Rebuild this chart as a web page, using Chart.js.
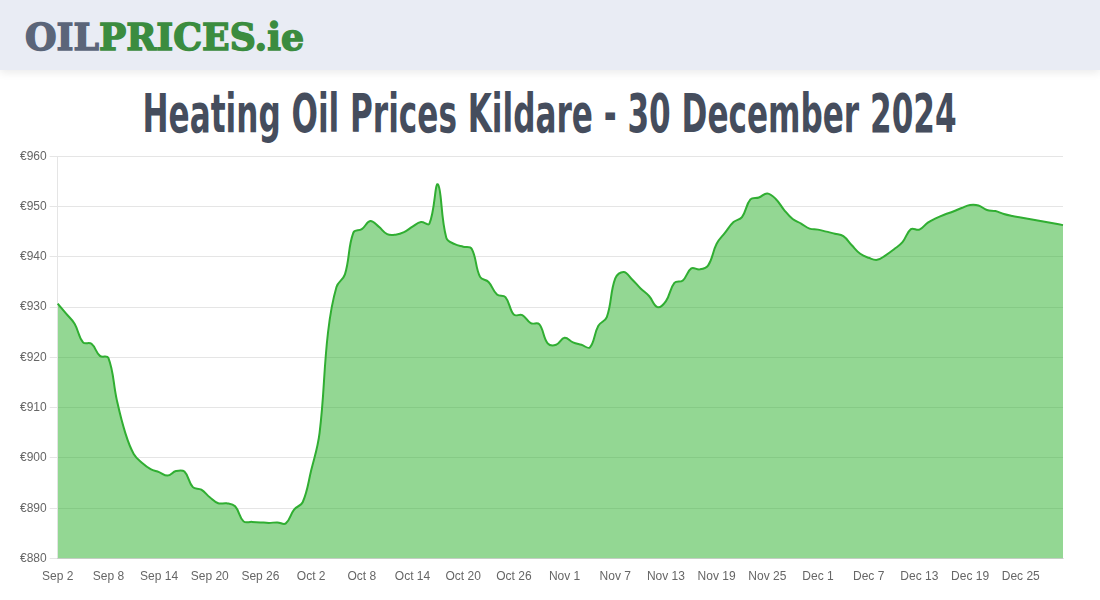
<!DOCTYPE html>
<html>
<head>
<meta charset="utf-8">
<script src="https://cdn.jsdelivr.net/npm/chart.js@4.4.1/dist/chart.umd.min.js"></script>
<style>
  html, body { margin: 0; padding: 0; background: #fff; }
  body { width: 1100px; height: 600px; overflow: hidden; position: relative; }
  .header {
    position: absolute; left: 0; top: 0; width: 1100px; height: 70px;
    background: #e9ecf4; box-shadow: 0 3px 8px rgba(0,0,0,0.08);
  }
  .logo {
    position: absolute; left: 25px; top: 12px;
    font-family: "DejaVu Serif", serif; font-weight: bold; font-size: 38px;
    line-height: 50px; white-space: nowrap; transform-origin: left center;
  }
  .logo .oil { color: #5b6579; -webkit-text-stroke: 1.5px #5b6579; }
  .logo .prices { color: #3b8c3f; -webkit-text-stroke: 1.5px #3b8c3f; }
  .title {
    position: absolute; left: -500px; top: 82px; width: 2100px; text-align: center;
  }
  .title span {
    display: inline-block; white-space: nowrap;
    font-family: "Liberation Sans Narrow", "DejaVu Sans Condensed", sans-serif;
    font-weight: bold; font-size: 54px; line-height: 64px; color: #454d5d;
    transform-origin: center center;
  }
  .chart-box { position: absolute; left: 17px; top: 146px; width: 1069px; height: 441px; }
</style>
</head>
<body>
<div class="header">
  <div class="logo" id="logo"><span class="oil">OIL</span><span class="prices">PRICES.ie</span></div>
</div>
<div class="title"><span id="title">Heating Oil Prices Kildare - 30 December 2024</span></div>
<div class="chart-box"><canvas id="priceChart"></canvas></div>
<script>
// Daily prices (EUR)
const sepPrices = [930.7, 928.7, 926.7, 923.0, 922.7, 920.3, 919.9, 911.5, 905.0, 900.8,
  899.0, 897.8, 897.2, 896.5, 897.4, 897.3, 894.2, 893.7, 892.2, 891.0,
  891.0, 890.4, 887.4, 887.3, 887.2, 887.1, 887.2, 887.0, 889.8];
const octPrices = [891.2, 897.5, 905.0, 925.0, 934.0, 936.5, 944.8, 945.5, 947.1, 946.0,
  944.5, 944.4, 944.9, 946.0, 946.9, 946.6, 954.4, 943.8, 942.5, 942.0,
  941.6, 936.0, 935.0, 932.5, 932.0, 928.5, 928.4, 926.8, 926.6, 922.8, 922.5];
const novPrices = [923.9, 923.0, 922.5, 922.0, 926.3, 928.0, 935.7, 937.0, 935.5, 933.7,
  932.2, 930.0, 931.2, 934.8, 935.3, 937.7, 937.5, 938.3, 942.6, 944.8,
  946.9, 947.9, 951.4, 951.8, 952.6, 951.5, 949.3, 947.5, 946.6, 945.6];
const decPrices = [945.4, 945.0, 944.6, 944.1, 942.3, 940.6, 939.8, 939.4, 940.3, 941.5,
  942.9, 945.5, 945.4, 946.8, 947.7, 948.4, 949.0, 949.7, 950.3, 950.2,
  949.3, 949.1, 948.5, 948.1, 947.8, 947.5, 947.2, 946.9, 946.6, 946.3];

const prices = [...sepPrices, ...octPrices, ...novPrices, ...decPrices];

// Date labels, one per day from 2 September
const monthNames = ["Jan", "Feb", "Mar", "Apr", "May", "Jun", "Jul", "Aug", "Sep", "Oct", "Nov", "Dec"];
const labels = [];
for (let i = 0; i < prices.length; i++) {
  const d = new Date(Date.UTC(2024, 8, 2 + i));
  labels.push(monthNames[d.getUTCMonth()] + " " + d.getUTCDate());
}

const yMin = 880;
const yMax = 960;
const yStep = 10;
const labelEvery = 6;

// Fit the logo and title to the widths in the picture
function fitWidth(el, width) {
  const w = el.getBoundingClientRect().width;
  el.style.transform = "scaleX(" + (width / w) + ")";
}
fitWidth(document.getElementById("logo"), 279);
fitWidth(document.getElementById("title"), 814);

const ctx = document.getElementById("priceChart");
new Chart(ctx, {
  type: "line",
  data: {
    labels: labels,
    datasets: [{
      label: "Price",
      data: prices,
      borderColor: "rgb(48,174,50)",
      backgroundColor: "rgba(40,175,40,0.5)",
      borderWidth: 2,
      fill: true,
      tension: 0.4,
      pointRadius: 0,
      pointHoverRadius: 0,
    }],
  },
  options: {
    responsive: true,
    maintainAspectRatio: false,
    animation: false,
    layout: { padding: { right: 23 } },
    plugins: {
      legend: { display: false },
      tooltip: { enabled: false },
    },
    scales: {
      x: {
        grid: { display: false },
        ticks: {
          autoSkip: false,
          maxRotation: 0,
          color: "#666",
          font: { family: "Liberation Sans, Arial, sans-serif", size: 12 },
          callback: (value, index) => (index % labelEvery === 0 ? labels[index] : null),
        },
      },
      y: {
        min: yMin,
        max: yMax,
        ticks: {
          stepSize: yStep,
          color: "#666",
          font: { family: "Liberation Sans, Arial, sans-serif", size: 12 },
          callback: (value) => "€" + value,
        },
        grid: { color: "rgba(0,0,0,0.1)" },
      },
    },
  },
});
</script>
</body>
</html>
